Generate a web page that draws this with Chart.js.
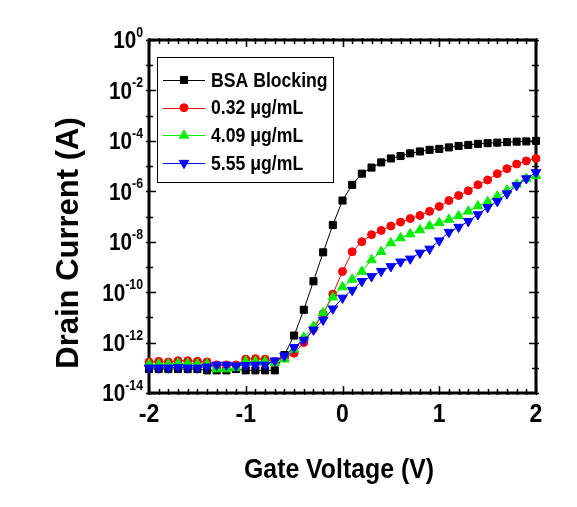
<!DOCTYPE html>
<html>
<head>
<meta charset="utf-8">
<script src="https://cdn.jsdelivr.net/npm/chart.js@4.4.1/dist/chart.umd.min.js"></script>
<style>
  html, body { margin: 0; padding: 0; background: #fff; }
  #wrap { width: 577px; height: 507px; }
</style>
</head>
<body>
<div id="wrap"><canvas id="ivChart" width="577" height="507"></canvas></div>
<script>
// gate voltage sweep (V)
const gateVoltage = [
  -2.0, -1.9, -1.8, -1.7, -1.6, -1.5, -1.4, -1.3, -1.2, -1.1,
  -1.0, -0.9, -0.8, -0.7, -0.6, -0.5, -0.4, -0.3, -0.2, -0.1,
   0.0,  0.1,  0.2,  0.3,  0.4,  0.5,  0.6,  0.7,  0.8,  0.9,
   1.0,  1.1,  1.2,  1.3,  1.4,  1.5,  1.6,  1.7,  1.8,  1.9, 2.0
];

// drain current (A)
const bsaBlocking = [
  8.9e-14, 8.9e-14, 8.9e-14, 8.9e-14, 8.9e-14, 8.9e-14, 7.9e-14, 7.9e-14, 7.9e-14, 8.9e-14,
  7.9e-14, 7.9e-14, 7.9e-14, 7.9e-14, 3.2e-13, 1.9e-12, 2.0e-11, 2.7e-10, 3.8e-9, 4.6e-8,
  4.3e-7, 1.8e-6, 5.0e-6, 8.7e-6, 1.4e-5, 2.0e-5, 2.5e-5, 3.2e-5, 3.8e-5, 4.4e-5,
  4.8e-5, 5.5e-5, 6.3e-5, 6.9e-5, 7.6e-5, 8.1e-5, 8.5e-5, 8.9e-5, 9.3e-5, 9.5e-5, 1.0e-4
];
const conc032 = [
  1.7e-13, 1.8e-13, 1.7e-13, 1.9e-13, 1.9e-13, 1.8e-13, 1.7e-13, 1.3e-13, 1.3e-13, 1.3e-13,
  2.2e-13, 2.3e-13, 2.2e-13, 1.8e-13, 2.5e-13, 3.8e-13, 1.0e-12, 3.5e-12, 1.4e-11, 8.3e-11,
  6.6e-10, 4.0e-9, 1.0e-8, 1.9e-8, 2.8e-8, 4.2e-8, 6.0e-8, 8.3e-8, 1.1e-7, 1.6e-7,
  2.5e-7, 4.3e-7, 6.8e-7, 1.05e-6, 1.8e-6, 2.8e-6, 5.0e-6, 7.9e-6, 1.2e-5, 1.6e-5, 2.0e-5
];
const conc409 = [
  1.4e-13, 1.4e-13, 1.4e-13, 1.5e-13, 1.5e-13, 1.4e-13, 1.4e-13, 8.9e-14, 8.9e-14, 1.0e-13,
  1.8e-13, 1.8e-13, 1.8e-13, 1.6e-13, 2.2e-13, 5.4e-13, 1.6e-12, 4.3e-12, 1.5e-11, 6.3e-11,
  1.6e-10, 3.2e-10, 6.6e-10, 1.9e-9, 4.0e-9, 8.9e-9, 1.4e-8, 2.0e-8, 2.9e-8, 4.2e-8,
  5.6e-8, 7.6e-8, 1.05e-7, 1.6e-7, 2.6e-7, 3.8e-7, 6.3e-7, 1.1e-6, 1.9e-6, 3.2e-6, 4.1e-6
];
const conc555 = [
  1.0e-13, 1.0e-13, 1.0e-13, 1.05e-13, 1.0e-13, 1.0e-13, 1.1e-13, 1.3e-13, 1.3e-13, 1.2e-13,
  1.26e-13, 1.3e-13, 1.3e-13, 1.9e-13, 3.0e-13, 6.5e-13, 1.26e-12, 3.2e-12, 7.9e-12, 2.2e-11,
  5.9e-11, 1.2e-10, 2.7e-10, 4.2e-10, 6.8e-10, 1.05e-9, 1.6e-9, 2.1e-9, 3.6e-9, 5.2e-9,
  1.1e-8, 2.4e-8, 3.8e-8, 6.5e-8, 1.2e-7, 2.3e-7, 4.0e-7, 8.1e-7, 1.7e-6, 3.2e-6, 5.6e-6
];

const seriesLabels = ["BSA Blocking", "0.32 \u03bcg/mL", "4.09 \u03bcg/mL", "5.55 \u03bcg/mL"];
const xTickLabels = [-2, -1, 0, 1, 2];
const yTickExponents = [0, -2, -4, -6, -8, -10, -12, -14];

const FONT = "'Liberation Sans', Arial, sans-serif";

function series(values) {
  return gateVoltage.map((v, i) => ({ x: v, y: values[i] }));
}

// the original uses a squeezed Arial; draw text narrowed horizontally
function squeezedText(ctx, text, x, y, size, sx, align, baseline) {
  ctx.save();
  ctx.font = "bold " + size + "px " + FONT;
  ctx.textAlign = align;
  ctx.textBaseline = baseline;
  ctx.translate(x, y);
  ctx.scale(sx, 1);
  ctx.fillText(text, 0, 0);
  ctx.restore();
  return ctx.measureText ? measure(ctx, text, size) * sx : 0;
}

function measure(ctx, text, size) {
  ctx.save();
  ctx.font = "bold " + size + "px " + FONT;
  const w = ctx.measureText(text).width;
  ctx.restore();
  return w;
}

// frame, inward ticks, tick labels, axis titles and the boxed legend
const originFrame = {
  id: "originFrame",
  beforeDatasetsDraw(chart) {
    const { ctx, chartArea: a, scales: { x, y } } = chart;
    ctx.save();
    ctx.strokeStyle = "#000";
    ctx.lineWidth = 1.5;
    ctx.beginPath();
    // x ticks every 0.1 V, long ones on whole volts
    for (let k = -20; k <= 20; k++) {
      const px = Math.round(x.getPixelForValue(k / 10)) + 0.5;
      const len = k % 10 === 0 ? 7 : 4;
      ctx.moveTo(px, a.bottom + 2); ctx.lineTo(px, a.bottom - len);
      ctx.moveTo(px, a.top - 2); ctx.lineTo(px, a.top + len);
    }
    // y ticks every decade, long ones every two
    for (let e = 0; e >= -14; e--) {
      const py = Math.round(y.getPixelForValue(Math.pow(10, e))) + 0.5;
      const len = e % 2 === 0 ? 7 : 4;
      ctx.moveTo(a.left - 3, py); ctx.lineTo(a.left + len, py);
      ctx.moveTo(a.right + 3, py); ctx.lineTo(a.right - len, py);
    }
    ctx.stroke();
    ctx.lineWidth = 3;
    ctx.strokeRect(a.left, a.top, a.right - a.left, a.bottom - a.top);
    ctx.restore();
  },
  afterDraw(chart) {
    const { ctx, chartArea: a, scales: { x, y } } = chart;
    ctx.save();
    ctx.fillStyle = "#000";

    // x tick labels
    xTickLabels.forEach(v => {
      squeezedText(ctx, String(v), x.getPixelForValue(v), a.bottom + 22, 25, 0.92, "center", "middle");
    });

    // y tick labels 10^n
    const rightEdge = a.left - 6;
    yTickExponents.forEach(e => {
      const py = y.getPixelForValue(Math.pow(10, e));
      const exp = e === 0 ? "0" : "-" + Math.abs(e);
      const ew = measure(ctx, exp, 15) * 0.82;
      squeezedText(ctx, exp, rightEdge - ew, py - 3, 15, 0.82, "left", "alphabetic");
      squeezedText(ctx, "10", rightEdge - ew, py + 2, 23.5, 0.88, "right", "middle");
    });

    // axis titles
    squeezedText(ctx, "Gate Voltage (V)", 339, 478, 27, 0.92, "center", "alphabetic");
    ctx.save();
    ctx.translate(78, 243);
    ctx.rotate(-Math.PI / 2);
    ctx.font = "bold 31px " + FONT;
    ctx.textAlign = "center";
    ctx.textBaseline = "alphabetic";
    ctx.fillText("Drain Current (A)", 0, 0);
    ctx.restore();

    // legend box
    const box = { left: 157.5, top: 57.5, width: 176, height: 125 };
    ctx.fillStyle = "#fff";
    ctx.fillRect(box.left, box.top, box.width, box.height);
    ctx.strokeStyle = "#000";
    ctx.lineWidth = 1;
    ctx.strokeRect(box.left, box.top, box.width, box.height);
    chart.data.datasets.forEach((ds, i) => {
      const ry = 80 + i * 27.7;
      ctx.strokeStyle = ds.borderColor;
      ctx.fillStyle = ds.pointBackgroundColor;
      ctx.lineWidth = 1;
      ctx.beginPath();
      ctx.moveTo(163, Math.round(ry) + 0.5);
      ctx.lineTo(205, Math.round(ry) + 0.5);
      ctx.stroke();
      Chart.helpers.drawPoint(ctx, {
        pointStyle: ds.pointStyle,
        radius: ds.pointRadius,
        rotation: ds.pointRotation || 0,
        borderWidth: 1
      }, 184, ry);
      ctx.fillStyle = "#000";
      squeezedText(ctx, ds.label, 211, ry + 1, 21, 0.84, "left", "middle");
    });
    ctx.restore();
  }
};

function lineSet(label, values, color, style, radius, rotation, order) {
  return {
    label,
    data: series(values),
    borderColor: color,
    backgroundColor: color,
    pointBackgroundColor: color,
    pointBorderColor: color,
    pointBorderWidth: 1,
    pointStyle: style,
    pointRadius: radius,
    pointRotation: rotation,
    borderWidth: 1,
    tension: 0,
    clip: false,
    order
  };
}

new Chart(document.getElementById("ivChart"), {
  type: "line",
  data: {
    datasets: [
      lineSet(seriesLabels[0], bsaBlocking, "#000000", "rect", 5, 0, 3),
      lineSet(seriesLabels[1], conc032, "#ff0000", "circle", 4, 0, 2),
      lineSet(seriesLabels[2], conc409, "#00ee00", "triangle", 5.5, 0, 1),
      lineSet(seriesLabels[3], conc555, "#0000ff", "triangle", 5.5, 180, 0)
    ]
  },
  options: {
    responsive: false,
    animation: false,
    events: [],
    layout: { padding: { left: 141, right: 41, top: 40, bottom: 106 } },
    plugins: { legend: { display: false }, tooltip: { enabled: false } },
    scales: {
      x: {
        type: "linear", min: -2, max: 2,
        ticks: { display: false }, grid: { display: false }, border: { display: false }
      },
      y: {
        type: "logarithmic", min: 1e-14, max: 1,
        ticks: { display: false }, grid: { display: false }, border: { display: false }
      }
    }
  },
  plugins: [originFrame]
});
</script>
</body>
</html>
